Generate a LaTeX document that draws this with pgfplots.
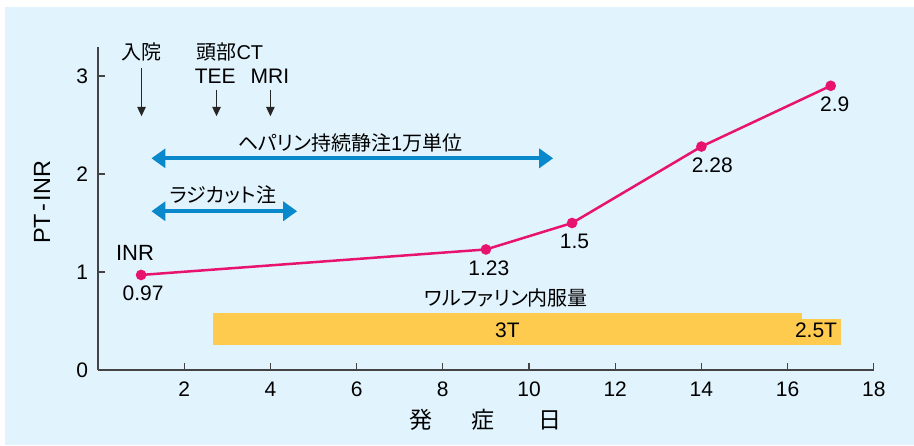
\documentclass[border=0pt]{standalone}
\usepackage{pgfplots}
\pgfplotsset{compat=1.18}
\usepackage{pgfplotstable}
\usetikzlibrary{arrows.meta}
\usepackage{fontspec}
\setmainfont{Liberation Sans}
\newfontfamily\jp[RawFeature=+palt]{Noto Sans CJK JP}
\definecolor{bgblue}{HTML}{E1F3FD}
\definecolor{inrline}{HTML}{E8136E}
\definecolor{arrblue}{HTML}{0A88CC}
\definecolor{barorange}{HTML}{FFCB4F}
\definecolor{axgray}{HTML}{444444}

\pgfplotstableread{
x y lab dx
1 0.97 0.97 1
9 1.23 1.23 1.5
11 1.5 1.5 1.2
14 2.28 2.28 5.5
17 2.9 2.9 2
}\inrdata

\begin{document}
\begin{tikzpicture}
\path[use as bounding box] (0,0) rectangle (457pt,222.5pt);
\fill[white] (0,0) rectangle (457pt,222.5pt);
\fill[bgblue] (2.5pt,0) rectangle (457pt,219pt);
\begin{axis}[
  at={(49pt,37.5pt)}, anchor=south west,
  x=21.55pt, y=49pt,
  xmin=0, xmax=18, ymin=0, ymax=3.3,
  axis lines*=left,
  axis line style={-, color=axgray, line width=0.6pt},
  xtick={2,4,...,18}, ytick={0,1,2,3},
  tick align=inside,
  major tick length=3.5pt,
  tick style={color=axgray, line width=0.6pt},
  /pgf/number format/assume math mode=true,
  ticklabel style={font=\fontsize{10.5}{12}\selectfont, color=black},
  xticklabel style={yshift=-2.5pt},
  yticklabel style={xshift=-1.5pt},
  clip=false,
]
% warfarin bars
\addplot[fill=barorange, draw=none] coordinates {(2.66,0.255) (16.33,0.255) (16.33,0.58) (2.66,0.58)} --cycle;
\addplot[fill=barorange, draw=none] coordinates {(16.33,0.255) (17.25,0.255) (17.25,0.52) (16.33,0.52)} --cycle;
% treatment arrows
\addplot[arrblue, line width=2pt, {Triangle[width=9.5pt,length=7pt]}-{Triangle[width=9.5pt,length=7pt]}] coordinates {(1.24,2.16) (10.56,2.16)};
\addplot[arrblue, line width=2pt, {Triangle[width=9.5pt,length=7pt]}-{Triangle[width=9.5pt,length=7pt]}] coordinates {(1.24,1.62) (4.62,1.62)};
% event arrows
\addplot[black!85, line width=0.5pt, -{Triangle[width=4.3pt,length=4.7pt]}] coordinates {(1.01,3.08) (1.01,2.59)};
\addplot[black!85, line width=0.5pt, -{Triangle[width=4.3pt,length=4.7pt]}] coordinates {(2.75,2.86) (2.75,2.59)};
\addplot[black!85, line width=0.5pt, -{Triangle[width=4.3pt,length=4.7pt]}] coordinates {(4.0,2.86) (4.0,2.59)};
% INR line
\addplot[inrline, line width=1.25pt, mark=*, mark size=2pt, mark options={fill=inrline, draw=inrline},
  point meta=explicit symbolic,
  visualization depends on={\thisrow{dx} \as \dx},
  nodes near coords,
  nodes near coords align={center},
  every node near coord/.append style={anchor=center, yshift=-9.3pt, xshift=\dx pt, text=black, font=\fontsize{10.5}{12}\selectfont},
] table[x=x, y=y, meta=lab] {\inrdata};
% texts
\node[font=\fontsize{11}{13}\selectfont] at (axis cs:0.86,1.19) {INR};
\node[font=\fontsize{10}{12}\selectfont\jp] at (axis cs:5.85,2.32) {ヘパリン持続静注{\normalfont 1}万単位};
\node[font=\fontsize{10}{12}\selectfont\jp] at (axis cs:2.9,1.79) {ラジカット注};
\node[font=\fontsize{10}{12}\selectfont\jp] at (axis cs:9.47,0.735) {ワルファリン内服量};
\node[font=\fontsize{10.5}{12}\selectfont] at (axis cs:9.5,0.41) {3T};
\node[font=\fontsize{10.5}{12}\selectfont] at (axis cs:16.66,0.41) {2.5T};
\node[font=\fontsize{10}{12}\selectfont\jp] at (axis cs:1.01,3.25) {入院};
\node[font=\fontsize{10}{12}\selectfont\jp] at (axis cs:3.06,3.25) {頭部{\normalfont CT}};
\node[font=\fontsize{10.5}{12}\selectfont] at (axis cs:2.72,3.0) {TEE};
\node[font=\fontsize{10.5}{12}\selectfont] at (axis cs:3.99,3.0) {MRI};
\node[font=\fontsize{11.7}{13}\selectfont, rotate=90] at (axis cs:-1.3,1.71) {PT\kern1.2pt-\kern1.2pt INR};
\node[font=\fontsize{11.5}{13}\selectfont\jp] at (axis cs:7.49,-0.51) {発};
\node[font=\fontsize{11.5}{13}\selectfont\jp] at (axis cs:8.93,-0.51) {症};
\node[font=\fontsize{11.5}{13}\selectfont\jp] at (axis cs:10.49,-0.51) {日};
\end{axis}
\end{tikzpicture}
\end{document}
